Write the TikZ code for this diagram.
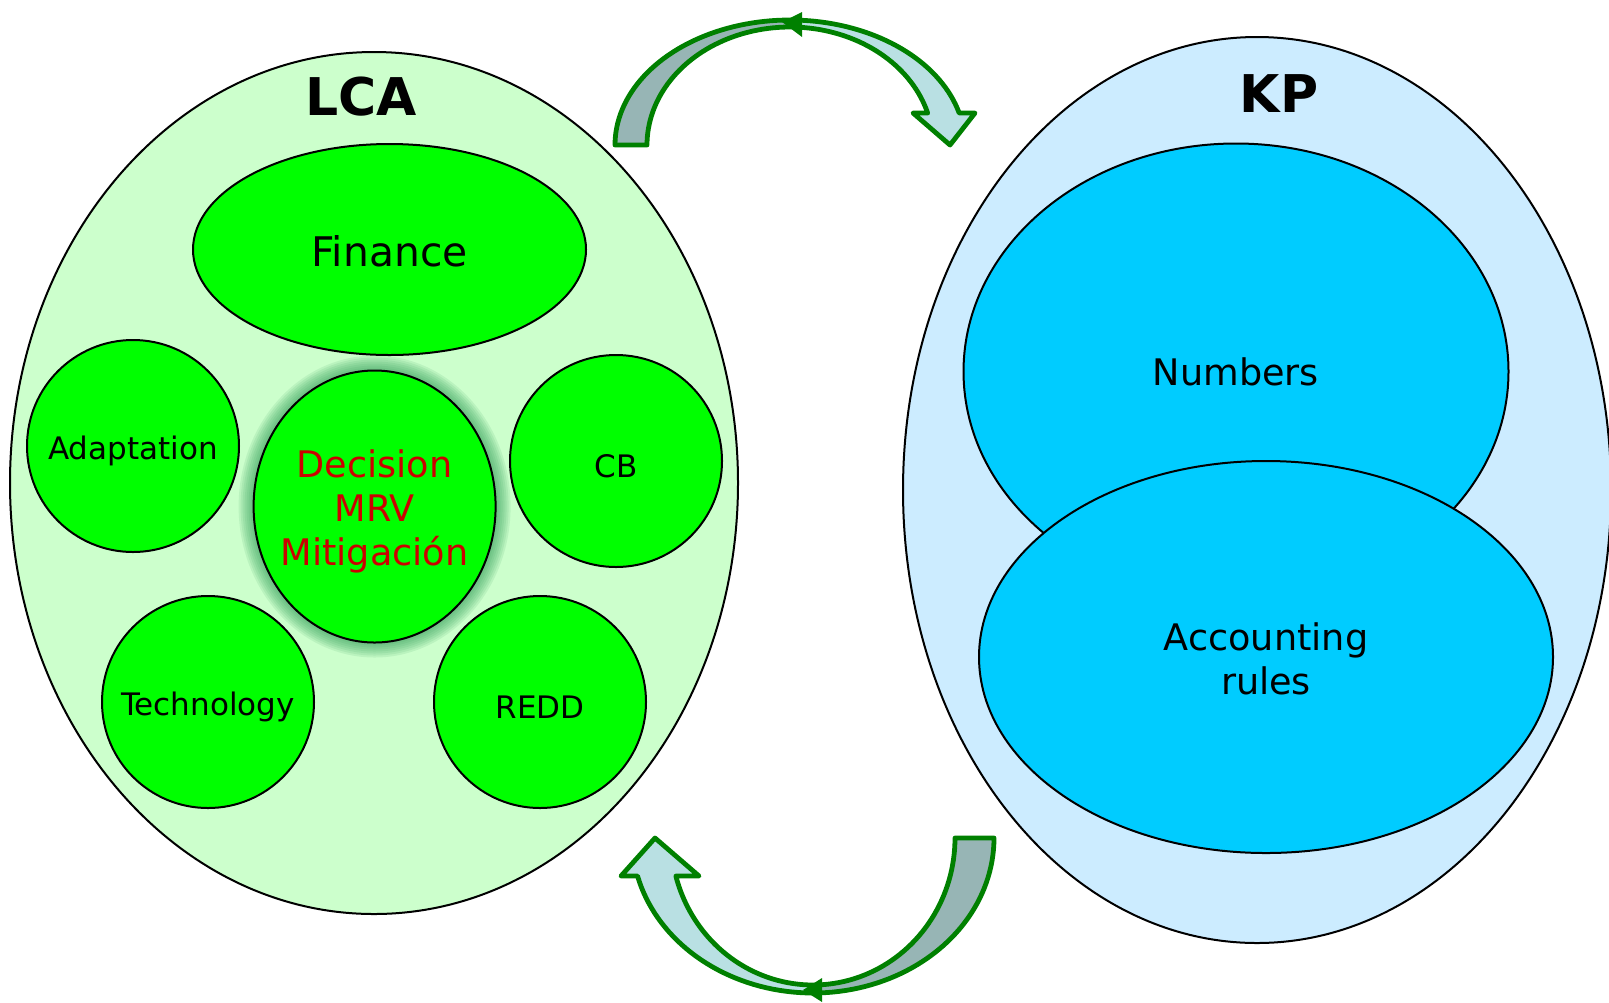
\documentclass[tikz,border=0pt]{standalone}
\usepackage{fontspec}
\setmainfont{DejaVu Sans}
\usetikzlibrary{shapes.geometric}

\definecolor{lcagreen}{HTML}{CCFFCC}
\definecolor{topicgreen}{HTML}{00FF00}
\definecolor{kpblue}{HTML}{CCECFF}
\definecolor{topicblue}{HTML}{00CCFF}
\definecolor{arrowline}{HTML}{008000}
\definecolor{arrowdark}{HTML}{97B5B5}
\definecolor{arrowlight}{HTML}{B9E0E3}
\definecolor{decisionred}{HTML}{CC0000}
\definecolor{glowgreen}{HTML}{2A9A55}

\tikzset{
	blob/.style={ellipse, draw=black, line width=1pt, inner sep=0pt},
	topic/.style={blob, fill=topicgreen, minimum width=106pt, minimum height=106pt},
	small/.style={font=\fontsize{15.5}{18}\selectfont, yshift=-2.6pt},
	headline/.style={font=\fontsize{26}{30}\selectfont\bfseries},
	bigtext/.style={align=center, font=\fontsize{18.3}{22}\selectfont},
	turnarrow/.style={draw=arrowline, line width=2.4pt, line join=round}
}

\begin{document}
\begin{tikzpicture}[x=0.5pt,y=-0.5pt]
	\useasboundingbox (0,0) rectangle (1609,1002);

	% LCA
	\node[blob, fill=lcagreen, minimum width=364pt, minimum height=431pt] (lca) at (374,483) {};
	\node[headline] (lcatitle) at (361,97) {LCA};
	\node[blob, fill=topicgreen, minimum width=196.5pt, minimum height=105.5pt,
		label={[font=\fontsize{20.4}{24}\selectfont, yshift=-1pt]center:Finance}] (finance) at (389.5,249.5) {};
	\node[topic, label={[small]center:Adaptation}] (adaptation) at (133,446) {};
	\node[topic, label={[small]center:CB}] (cb) at (616,461) {};
	\node[topic, label={[small]center:Technology}] (technology) at (208,702) {};
	\node[topic, label={[small]center:REDD}] (redd) at (540,702) {};

	% glow
	\foreach \g in {15,13,...,1}
		\fill[glowgreen, opacity=0.11] (374.6,506.5) ellipse [x radius={(121+\g)*0.5pt}, y radius={(136+\g)*0.5pt}];
	\node[blob, fill=topicgreen, minimum width=121pt, minimum height=136pt,
		label={[bigtext, text=decisionred, yshift=-2.5pt]center:Decision\\MRV\\Mitigación}] (decision) at (374.6,506.5) {};

	% KP
	\node[blob, fill=kpblue, minimum width=354pt, minimum height=453pt] (kp) at (1257,490) {};
	\node[headline] (kptitle) at (1279,94) {KP};
	\node[blob, fill=topicblue, minimum width=272.5pt, minimum height=228pt,
		label={[bigtext]center:Numbers}] (numbers) at (1236,371.5) {};
	\node[blob, fill=topicblue, minimum width=287pt, minimum height=196pt,
		label={[bigtext, yshift=-1pt]center:Accounting\\ rules}] (rules) at (1266,657) {};

	% top arrow
	\fill[arrowdark] plot[domain=180:90, samples=40] ({790+175*cos(\x)},{145-125*sin(\x)})
		-- plot[domain=90:180, samples=40] ({790+143*cos(\x)},{145-118*sin(\x)}) -- cycle;
	\fill[arrowlight] plot[domain=90:14.8, samples=40] ({790+175*cos(\x)},{145-125*sin(\x)})
		-- (975,113) -- (950,145) -- (913,113)
		-- plot[domain=15.7:90, samples=40] ({790+143*cos(\x)},{145-118*sin(\x)}) -- cycle;
	\draw[turnarrow] plot[domain=180:14.8, samples=80] ({790+175*cos(\x)},{145-125*sin(\x)})
		-- (975,113) -- (950,145) -- (913,113)
		-- plot[domain=15.7:180, samples=80] ({790+143*cos(\x)},{145-118*sin(\x)}) -- cycle;
	\fill[arrowline] (782,22) -- (802,12) -- (802,37) -- cycle;

	% bottom arrow
	\fill[arrowdark] plot[domain=0:90, samples=40] ({813+181*cos(\x)},{838+155*sin(\x)})
		-- plot[domain=90:0, samples=40] ({813+142*cos(\x)},{838+147*sin(\x)}) -- cycle;
	\fill[arrowlight] plot[domain=90:165.8, samples=40] ({813+181*cos(\x)},{838+155*sin(\x)})
		-- (621,876) -- (655,838) -- (699,876)
		-- plot[domain=165:90, samples=40] ({813+142*cos(\x)},{838+147*sin(\x)}) -- cycle;
	\draw[turnarrow] plot[domain=0:165.8, samples=80] ({813+181*cos(\x)},{838+155*sin(\x)})
		-- (621,876) -- (655,838) -- (699,876)
		-- plot[domain=165:0, samples=80] ({813+142*cos(\x)},{838+147*sin(\x)}) -- cycle;
	\fill[arrowline] (803,990) -- (822,978) -- (822,1002) -- cycle;
\end{tikzpicture}
\end{document}
